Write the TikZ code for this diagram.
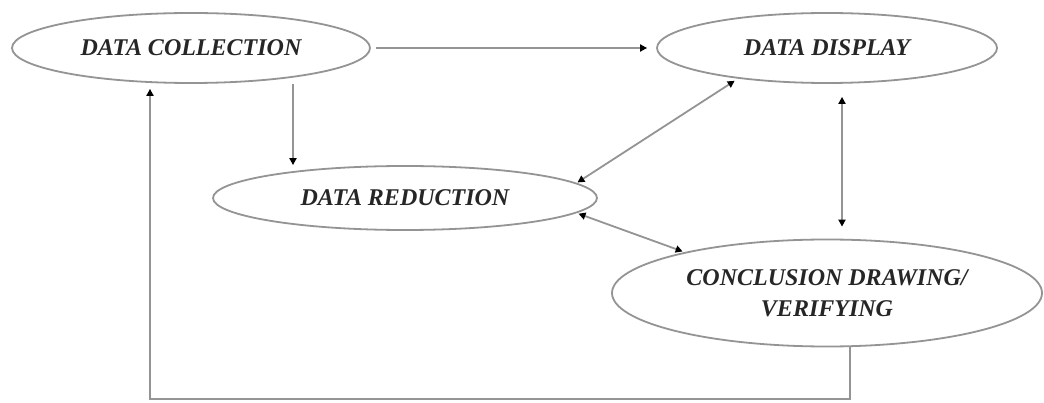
\documentclass[tikz,border=0pt]{standalone}
\usepackage{fontspec}
\setmainfont{Liberation Serif}
\usetikzlibrary{shapes.geometric,arrows.meta}
\begin{document}
\begin{tikzpicture}[x=1pt,y=-1pt,
  tip/.tip={Triangle[length=7pt,width=7pt,color=black,fill=black]},
  oval/.style={ellipse,draw=black!42,line width=1.8pt,inner sep=0pt,
    font=\fontsize{24}{31}\selectfont\bfseries\itshape,text=black!85,align=center},
  conn/.style={draw=black!42,line width=1.8pt,arrows={-tip}},
  biconn/.style={draw=black!42,line width=1.8pt,arrows={tip-tip}}]
\useasboundingbox[fill=white] (0,0) rectangle (1044,403);
\node[oval,minimum width=358pt,minimum height=70pt] (dc) at (191,48) {DATA COLLECTION};
\node[oval,minimum width=340pt,minimum height=70pt] (dd) at (827,48) {DATA DISPLAY};
\node[oval,minimum width=384pt,minimum height=64pt] (dr) at (405,198) {DATA REDUCTION};
\node[oval,minimum width=430pt,minimum height=107pt] (cd) at (827,293) {CONCLUSION DRAWING/\\VERIFYING};
% collection -> display
\draw[conn,shorten <=5pt,shorten >=9pt] (dc.east) -- (dd.west);
% collection -> reduction
\draw[conn] ([xshift=102pt]dc.south) -- ([xshift=102pt]dc.south |- dr.north);
% reduction <-> display
\draw[biconn,shorten <=1pt,shorten >=4pt] (dr.5) -- (dd.199);
% reduction <-> conclusion
\draw[biconn,shorten <=2pt,shorten >=2pt] (dr.355) -- (cd.164);
% display <-> conclusion
\draw[biconn,shorten <=13pt,shorten >=12pt] ([xshift=15pt]dd.south) -- ([xshift=15pt]cd.north);
% conclusion -> collection loop
\coordinate (lp) at (850,399);
\draw[conn,shorten >=5pt] ([xshift=23pt]cd.south) -- ([xshift=23pt]cd.south |- lp) -| ([xshift=-41pt]dc.south);
\end{tikzpicture}
\end{document}
